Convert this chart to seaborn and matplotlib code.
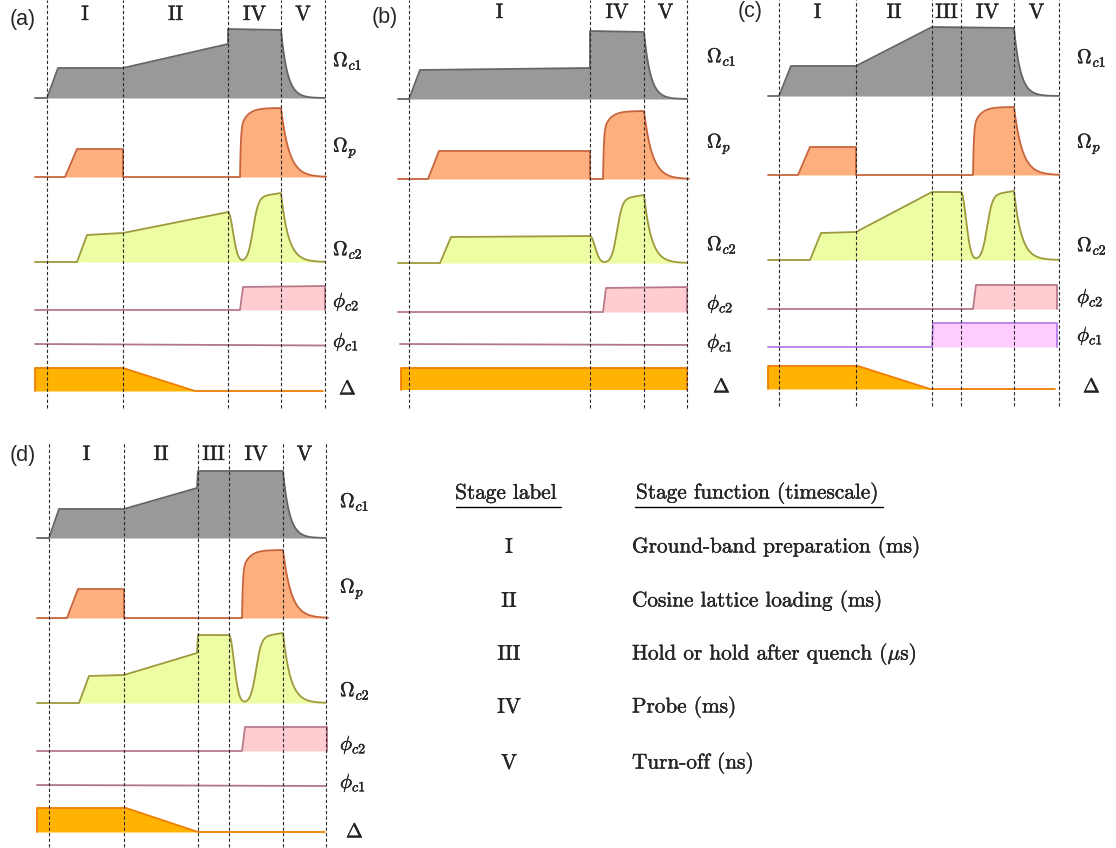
import numpy as np
import matplotlib
matplotlib.use("Agg")
import matplotlib.pyplot as plt
import matplotlib.patheffects as pe
import seaborn as sns

sns.set_theme(style="white")
plt.rcParams["mathtext.fontset"] = "cm"
plt.rcParams["font.family"] = ["DejaVu Sans"]
plt.rcParams["axes.unicode_minus"] = False

W, H = 1116, 848

# ------------------------------------------------------------------ data
# stage names and stage boundaries (time units, per panel)
STAGES_A = ["I", "II", "IV", "V"]
EDGES_A = [12, 88, 193, 246, 290]
STAGES_B = ["I", "IV", "V"]
EDGES_B = [11, 192, 246, 289]
STAGES_C = ["I", "II", "III", "IV", "V"]
EDGES_C = [11, 88, 164, 193, 246, 291]
STAGES_D = ["I", "II", "III", "IV", "V"]
EDGES_D = [12, 87, 161, 192, 246, 289]

# Omega_c1 : linear breakpoints, then turn-off decay (end time)
OC1_A_T = [0, 12, 23, 88, 193, 193, 246]
OC1_A_V = [0, 0, 30, 30, 54, 69, 68]
OC1_B_T = [0, 11, 22, 192, 192, 246]
OC1_B_V = [0, 0, 29, 31, 68, 67]
OC1_C_T = [0, 11, 23, 88, 164, 246]
OC1_C_V = [0, 0, 30, 30, 69, 68]
OC1_D_T = [0, 12, 22, 87, 160, 161, 246]
OC1_D_V = [0, 0, 29, 29, 50, 67, 67]
OC1_END = [290, 289, 291, 289]

# Omega_p : linear breakpoints, then probe pulse (on, off, amplitude, end)
OP_A_T = [0, 30, 42, 88, 88, 205]
OP_A_V = [0, 0, 28, 28, 0, 0]
OP_B_T = [0, 30, 41, 192, 192, 205]
OP_B_V = [0, 0, 28, 28, 0, 0]
OP_C_T = [0, 30, 42, 88, 88, 205]
OP_C_V = [0, 0, 28, 28, 0, 0]
OP_D_T = [0, 30, 41, 87, 87, 205]
OP_D_V = [0, 0, 29, 29, 0, 0]
OP_PULSE_ON = [205, 205, 205, 205]
OP_PULSE_OFF = [246, 246, 246, 246]
OP_PULSE_AMP = [69, 68, 68, 68]
OP_END = [291, 291, 291, 291]

# Omega_c2 : linear breakpoints, then dip + probe-coupling pulse (rise mid, off, amplitude, end)
OC2_A_T = [0, 42, 52, 88, 193]
OC2_A_V = [0, 0, 27, 29, 50]
OC2_B_T = [0, 42, 53, 192]
OC2_B_V = [0, 0, 26, 27]
OC2_C_T = [0, 42, 53, 88, 164, 193]
OC2_C_V = [0, 0, 27, 28, 68, 68]
OC2_D_T = [0, 42, 52, 87, 160, 161, 192]
OC2_D_V = [0, 0, 27, 28, 50, 68, 68]
OC2_RISE_MID = [218, 219, 219, 219]
OC2_OFF = [246, 246, 246, 246]
OC2_AMP = [69, 68, 69, 70]
OC2_END = [290, 289, 291, 289]

# phi_c2
PC2_A_T = [0, 205, 208, 290, 290]
PC2_A_V = [0, 0, 23, 24, 0]
PC2_B_T = [0, 205, 208, 289, 289]
PC2_B_V = [0, 0, 24, 25, 0]
PC2_C_T = [0, 205, 208, 289, 289]
PC2_C_V = [0, 0, 24, 24, 0]
PC2_D_T = [0, 205, 208, 290, 290]
PC2_D_V = [0, 0, 24, 24, 0]

# phi_c1
PC1_A_T = [0, 290]
PC1_A_V = [0, -1.5]
PC1_B_T = [2, 289]
PC1_B_V = [0, -1]
PC1_C_T = [0, 164, 165, 289, 289]
PC1_C_V = [0, 0, 24, 24, 0]
PC1_D_T = [0, 289]
PC1_D_V = [0, -1]

# Delta (detuning)
DL_A_T = [0, 0, 88, 160, 288]
DL_A_V = [0, 23, 23, 0, 0]
DL_B_T = [3, 3, 289, 289]
DL_B_V = [0, 22, 22, 0]
DL_C_T = [0, 0, 90, 162, 287]
DL_C_V = [0, 23, 23, 0, 0]
DL_D_T = [0, 0, 89, 161, 288]
DL_D_V = [0, 24, 24, 0, 0]

CHANNEL_LABELS = [r"$\Omega_{c1}$", r"$\Omega_{p}$", r"$\Omega_{c2}$",
                  r"$\phi_{c2}$", r"$\phi_{c1}$", r"$\Delta$"]
PANEL_LETTERS = ["(a)", "(b)", "(c)", "(d)"]

TABLE_HEAD = ["Stage label", "Stage function (timescale)"]
TABLE_STAGES = ["I", "II", "III", "IV", "V"]
TABLE_FUNCS = ["Ground-band preparation (ms)",
               "Cosine lattice loading (ms)",
               r"Hold or hold after quench ($\mu$s)",
               "Probe (ms)",
               "Turn-off (ns)"]

# ------------------------------------------------------------------ styles
C_OC1 = ("#999999", "#656565")
C_OP = ("#fdb07e", "#c8643c")
C_OC2 = ("#edfda3", "#9c9a3c")
C_PC2 = ("#ffccd2", "#b87a88")
C_PC1 = ("#ffccff", "#b77be8")
C_DL = ("#ffb300", "#f07d00")
MAUVE = "#b07885"
BOLDEN = [pe.withStroke(linewidth=0.25, foreground="black")]

# layout (pixels of the figure): region, trace start, top, baselines, label pos...
LAYOUT = [
    dict(region=(0, 370, 0, 410), x0=35, top=0, base=[98, 177, 262, 310, 344, 391],
         ly=[61, 148, 250, 302, 342, 389], lx=333, sy=15, letter=(23, 19), dash=(0, 408)),
    dict(region=(370, 740, 0, 410), x0=398, top=0, base=[99, 179, 263, 312, 344, 390],
         ly=[57, 144, 245, 304, 343, 387], lx=707, sy=13, letter=(385, 17), dash=(0, 408)),
    dict(region=(740, 1116, 0, 410), x0=768, top=0, base=[96, 175, 260, 309, 347, 389],
         ly=[58, 144, 246, 298, 336, 387], lx=1077, sy=13, letter=(750, 12), dash=(0, 406)),
    dict(region=(0, 400, 430, 848), x0=37, top=430, base=[108, 188, 273, 321, 355, 402],
         ly=[72, 159, 261, 315, 353, 402], lx=340, sy=25, letter=(23, 455), dash=(13, 417)),
]


# ------------------------------------------------------------------ shape helpers
def add_decay(t, v, t_end, tau):
    tt = np.linspace(t[-1], t_end, 80)[1:]
    return np.r_[t, tt], np.r_[v, v[-1] * np.exp(-(tt - t[-1]) / tau)]


def add_probe(t, v, on, off, amp, t_end):
    t1 = np.linspace(on, off, 160)[1:]
    d = t1 - on
    v1 = amp * (0.7 * (1 - np.exp(-d / 0.8)) + 0.3 * (1 - np.exp(-d / 7.0)))
    return add_decay(np.r_[t, t1], np.r_[v, v1], t_end, 8.3)


def add_dip(t, v, mid, off, amp, t_end):
    ta, lev = t[-1], v[-1]
    t1 = np.linspace(ta, off, 240)[1:]
    frac = np.clip((t1 - mid) / (off - mid), 0, 1)
    v1 = lev * np.exp(-((t1 - ta) / 7.0) ** 2) + amp * (0.94 + 0.06 * frac) / (1 + np.exp(-(t1 - mid) / 2.7))
    return add_decay(np.r_[t, t1], np.r_[v, v1], t_end, 7.5)


def arr(x):
    return np.asarray(x, dtype=float)


def draw(ax, base, t, v, colors, fill=True):
    y = -base + v
    if fill:
        ax.fill_between(t, -base, y, color=colors[0], lw=0, zorder=2)
    sns.lineplot(x=t, y=y, ax=ax, color=colors[1], lw=1.3, estimator=None,
                 sort=False, legend=False, zorder=3)


fig = plt.figure(figsize=(W / 100, H / 100), dpi=100)
fig.patch.set_facecolor("white")

panel_data = [
    (STAGES_A, EDGES_A, OC1_A_T, OC1_A_V, OP_A_T, OP_A_V, OC2_A_T, OC2_A_V, PC2_A_T, PC2_A_V, PC1_A_T, PC1_A_V, DL_A_T, DL_A_V),
    (STAGES_B, EDGES_B, OC1_B_T, OC1_B_V, OP_B_T, OP_B_V, OC2_B_T, OC2_B_V, PC2_B_T, PC2_B_V, PC1_B_T, PC1_B_V, DL_B_T, DL_B_V),
    (STAGES_C, EDGES_C, OC1_C_T, OC1_C_V, OP_C_T, OP_C_V, OC2_C_T, OC2_C_V, PC2_C_T, PC2_C_V, PC1_C_T, PC1_C_V, DL_C_T, DL_C_V),
    (STAGES_D, EDGES_D, OC1_D_T, OC1_D_V, OP_D_T, OP_D_V, OC2_D_T, OC2_D_V, PC2_D_T, PC2_D_V, PC1_D_T, PC1_D_V, DL_D_T, DL_D_V),
]

for i, (lay, pdat) in enumerate(zip(LAYOUT, panel_data)):
    (stages, edges, oc1t, oc1v, opt, opv, oc2t, oc2v, pc2t, pc2v, pc1t, pc1v, dlt, dlv) = pdat
    xl, xr, yt, yb = lay["region"]
    x0, top = lay["x0"], lay["top"]
    ax = fig.add_axes([xl / W, 1 - yb / H, (xr - xl) / W, (yb - yt) / H])
    ax.set_xlim(xl - x0, xr - x0)
    ax.set_ylim(-(yb - top), -(yt - top))
    ax.axis("off")
    base = lay["base"]

    # Omega_c1
    t, v = add_decay(arr(oc1t), arr(oc1v), OC1_END[i], 6.5)
    draw(ax, base[0], t, v, C_OC1)
    # Omega_p
    t, v = add_probe(arr(opt), arr(opv), OP_PULSE_ON[i], OP_PULSE_OFF[i], OP_PULSE_AMP[i], OP_END[i])
    draw(ax, base[1], t, v, C_OP)
    # Omega_c2
    t, v = add_dip(arr(oc2t), arr(oc2v), OC2_RISE_MID[i], OC2_OFF[i], OC2_AMP[i], OC2_END[i])
    draw(ax, base[2], t, v, C_OC2)
    # phi_c2
    draw(ax, base[3], arr(pc2t), arr(pc2v), C_PC2)
    # phi_c1
    if i == 2:
        draw(ax, base[4], arr(pc1t), arr(pc1v), C_PC1)
    else:
        draw(ax, base[4], arr(pc1t), arr(pc1v), ("#ffffff", MAUVE), fill=False)
    # Delta
    draw(ax, base[5], arr(dlt), arr(dlv), C_DL)

    # stage boundaries
    ax.vlines(edges, -lay["dash"][1], -lay["dash"][0], colors="#2a2a2a",
              linestyles=(0, (3, 2)), lw=0.8, zorder=4)
    # stage names
    for k, name in enumerate(stages):
        xm = 0.5 * (edges[k] + edges[k + 1])
        ax.text(xm, -lay["sy"], name, fontfamily="cmr10", fontsize=15,
                ha="center", va="center", path_effects=BOLDEN)
    # channel labels
    for k, lab in enumerate(CHANNEL_LABELS):
        dx = 6 if k == 5 else 0
        ax.text(lay["lx"] - x0 + dx, -lay["ly"][k], lab, fontsize=14.5,
                ha="left", va="center", path_effects=BOLDEN)
    # panel letter
    lxp, lyp = lay["letter"]
    ax.text(lxp - x0, -(lyp - top), PANEL_LETTERS[i], fontfamily="Liberation Sans",
            fontsize=15.5, ha="center", va="center")

# ------------------------------------------------------------------ table
tax = fig.add_axes([400 / W, 0, (W - 400) / W, (H - 430) / H])
tax.set_xlim(400, W)
tax.set_ylim(H, 430)
tax.axis("off")
TXT = dict(fontfamily="cmr10", fontsize=15.3, va="center", path_effects=BOLDEN)
tax.text(506, 493, TABLE_HEAD[0], ha="center", **TXT)
tax.text(636, 493, TABLE_HEAD[1], ha="left", **TXT)
tax.plot([456, 561], [507, 507], color="black", lw=1.0)
tax.plot([635, 883], [507, 507], color="black", lw=1.0)
ROW_Y = [547, 601, 654, 707, 763]
for yy, s, f in zip(ROW_Y, TABLE_STAGES, TABLE_FUNCS):
    tax.text(509, yy, s, ha="center", **TXT)
    tax.text(632, yy, f, ha="left", **TXT)

fig.savefig("out.png", dpi=100, facecolor="white")
